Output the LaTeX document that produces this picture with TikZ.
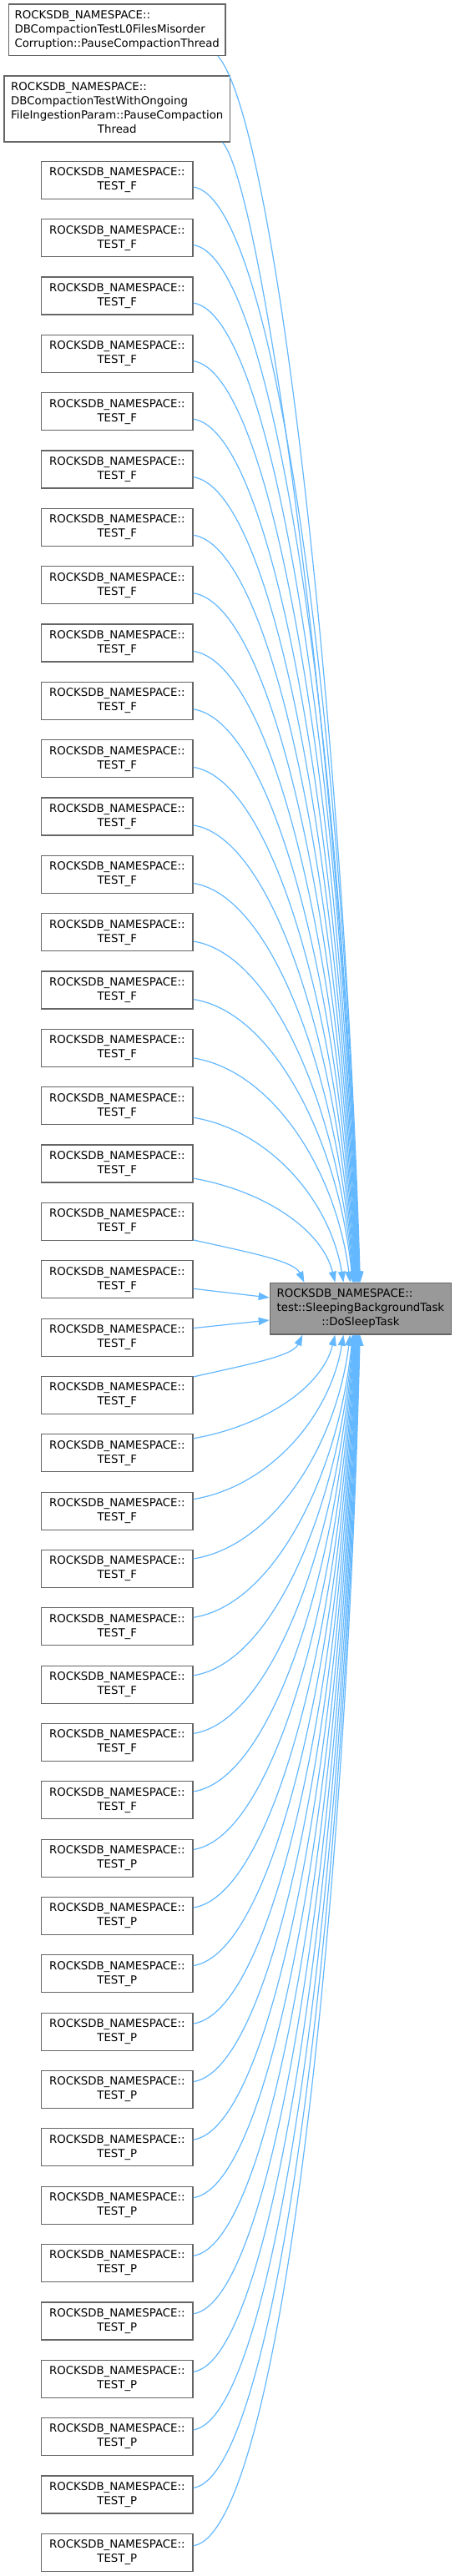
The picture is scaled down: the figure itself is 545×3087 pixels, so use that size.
\documentclass[tikz,border=0pt]{standalone}
\usepackage{fontspec}
\setmainfont{DejaVu Sans}
\usetikzlibrary{arrows.meta,calc}
\definecolor{edgeColor}{RGB}{99,184,255}
\definecolor{drawColor}{RGB}{102,102,102}
\definecolor{fillColor}{RGB}{153,153,153}
% lines left, last line centred
\newcommand{\dlbl}[2]{\begin{tabular}{@{}l@{}}#1\\\multicolumn{1}{@{}c@{}}{#2}\end{tabular}}
\tikzset{
  fn/.style={draw=drawColor,line width=1.2pt,fill=white,inner sep=0pt,
    minimum width=181.5pt,minimum height=45pt,
    font=\fontsize{13.33}{17}\selectfont},
  caller/.style={draw=edgeColor,line width=1.2pt,
    -{Triangle[length=13pt,width=9pt]}},
}
\begin{document}
\begin{tikzpicture}[x=1pt,y=-1pt]
\path[use as bounding box,fill=white] (0,0) rectangle (545,3087);

\node[fn,minimum width=259.6pt,minimum height=61.7pt] (p1) at (140.2,35.8) {\dlbl{ROCKSDB\_NAMESPACE::\\DBCompactionTestL0FilesMisorder}{Corruption::PauseCompactionThread}};
\node[fn,minimum width=270.7pt,minimum height=79pt] (p2) at (140.3,130.5) {\dlbl{ROCKSDB\_NAMESPACE::\\DBCompactionTestWithOngoing\\FileIngestionParam::PauseCompaction}{Thread}};
\node[fn,fill=fillColor,minimum width=217.2pt,minimum height=61.7pt] (dst) at (431.9,1568.2) {\dlbl{ROCKSDB\_NAMESPACE::\\test::SleepingBackgroundTask}{::DoSleepTask}};

% callers, TEST_F then TEST_P
\foreach \i in {0,...,41}{
  \pgfmathsetmacro\yc{215.8+69.34*\i}
  \ifnum\i<29 \def\kind{F}\else\def\kind{P}\fi
  \node[fn] (t\i) at (140.3,\yc) {\dlbl{ROCKSDB\_NAMESPACE::}{TEST\_\kind}};
}

% edges into the top of dst
\foreach \i in {0,...,18}{
  \pgfmathsetmacro\d{20-\i}
  \pgfmathsetmacro\ofs{\d==2 ? 22 : (\d==3 ? 17.5 : (\d==4 ? 14 : (\d==5 ? 12 : max(8,11-0.2*(\d-6)))))}
  \pgfmathsetmacro\ex{\d==2 ? 365 : (\d==3 ? 402 : (\d==4 ? 412 : (\d==5 ? 420 : 423+0.55*(\d-6))))}
  \pgfmathsetmacro\dw{\ex-231.1}
  \pgfmathsetmacro\dh{1537.3-(215.8+69.34*\i+\ofs)}
  \draw[caller] ([yshift=-\ofs pt]t\i.east) .. controls +(0.5*\dw,15) and ($(dst.north west)+({\ex-323.3-0.09*\dw},{-0.5*\dh})$) .. ([xshift=\ex pt-323.3pt]dst.north west);
}
\draw[caller] ([xshift=-9.6pt]p1.south east) .. controls +(70,80) and ($(dst.north west)+(88.7,-660)$) .. ([xshift=108.7pt]dst.north west);
\draw[caller] ([xshift=-9.6pt]p2.south east) .. controls +(50,60) and ($(dst.north west)+(88.1,-600)$) .. ([xshift=108.1pt]dst.north west);

% the two next to dst
\draw[caller] ([yshift=-11pt]t19.east) -- ([yshift=13.2pt]dst.west);
\draw[caller] ([yshift=11pt]t20.east) -- ([yshift=-13.8pt]dst.west);

% edges into the bottom of dst
\foreach \i in {21,...,41}{
  \pgfmathsetmacro\d{\i-19}
  \pgfmathsetmacro\ofs{\d==2 ? 22 : (\d==3 ? 17.5 : (\d==4 ? 14 : (\d==5 ? 12 : max(8,11-0.2*(\d-6)))))}
  \pgfmathsetmacro\ex{\d==2 ? 363 : (\d==3 ? 402 : (\d==4 ? 412 : (\d==5 ? 420 : 423+0.55*(\d-6))))}
  \pgfmathsetmacro\dw{\ex-231.1}
  \pgfmathsetmacro\dh{(215.8+69.34*\i-\ofs)-1599}
  \draw[caller] ([yshift=\ofs pt]t\i.east) .. controls +(0.5*\dw,-15) and ($(dst.south west)+({\ex-323.3-0.09*\dw},{0.5*\dh})$) .. ([xshift=\ex pt-323.3pt]dst.south west);
}
\end{tikzpicture}
\end{document}
